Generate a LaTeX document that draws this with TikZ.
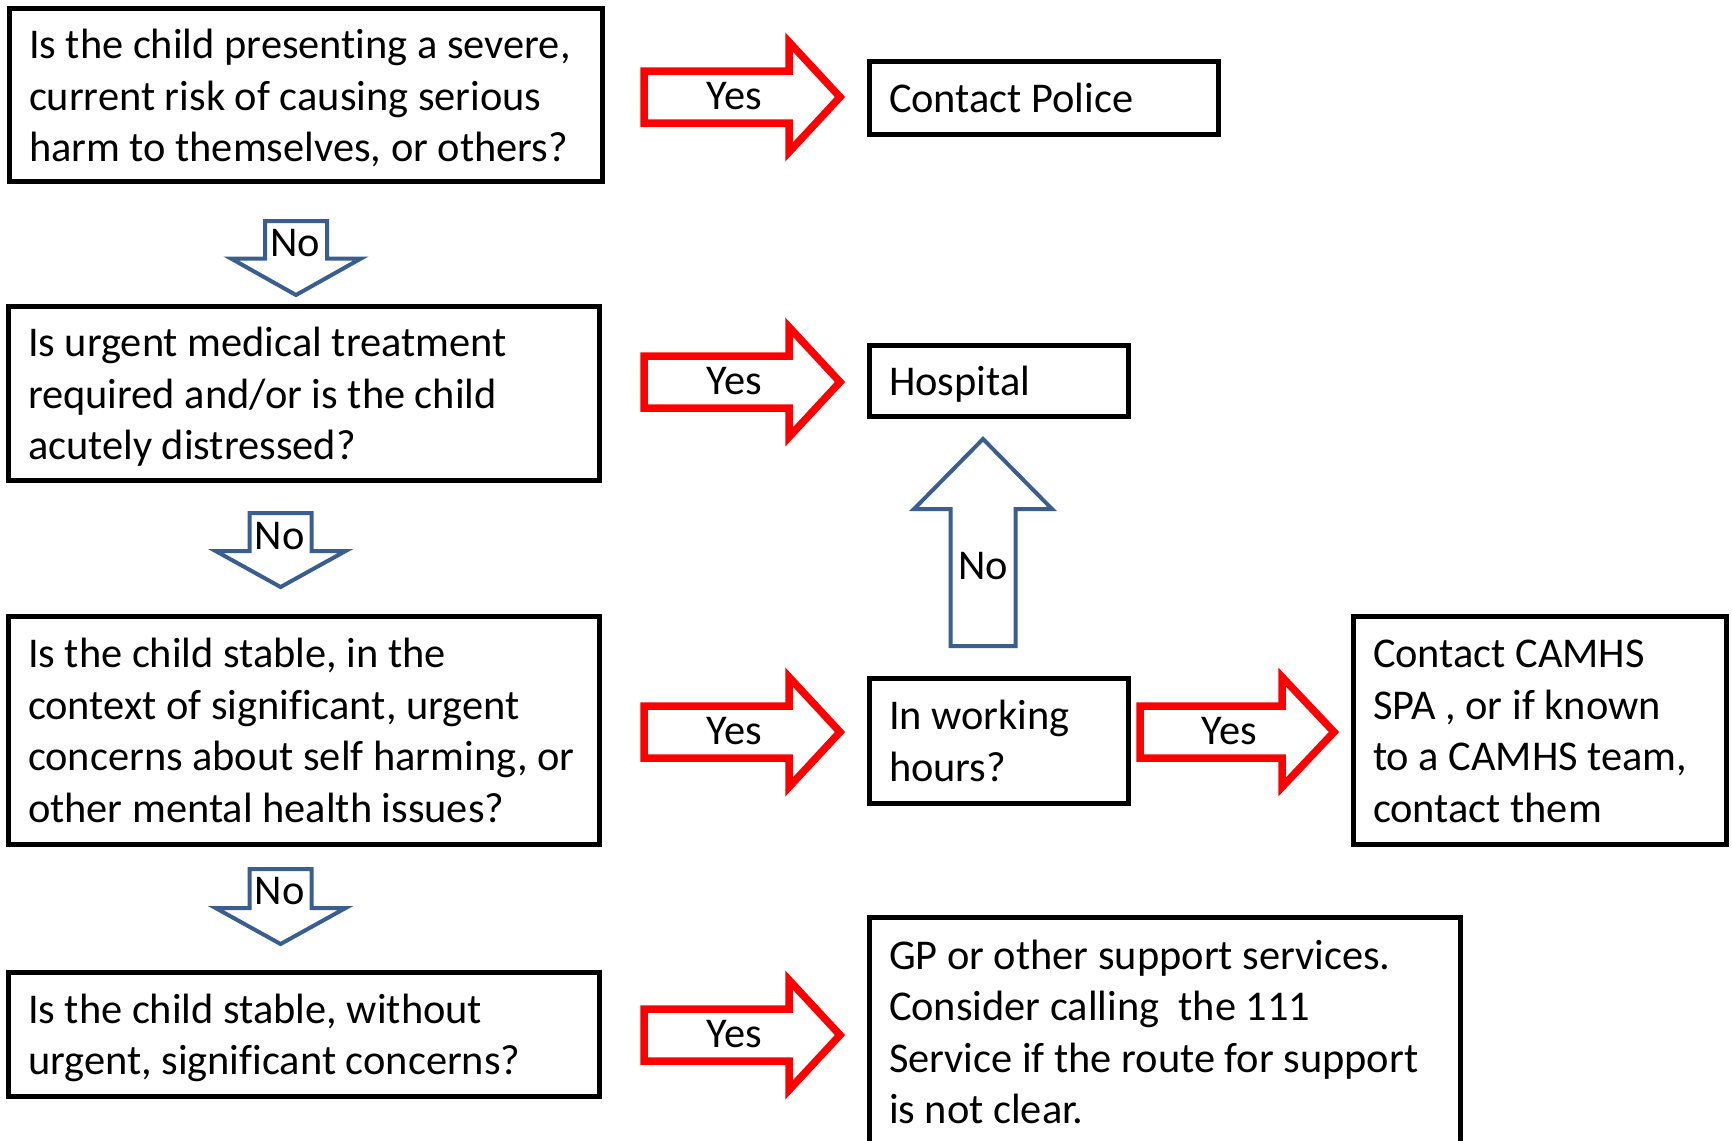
\documentclass[tikz,border=0pt]{standalone}
\usepackage{fontspec}
\setmainfont[Ligatures=NoCommon]{Carlito}
\definecolor{nblue}{HTML}{3A5E8E}
\newcommand\fs{\fontsize{21.2pt}{25.7pt}\selectfont\hyphenpenalty=10000\relax}
\newcommand\LN[1]{\mbox{\spaceskip=0pt\xspaceskip=0pt\frenchspacing #1}}
\newcommand\FL[1]{\rule{0pt}{15pt}\LN{#1}}
\newcommand\LL[1]{\smash{\LN{#1}}}
\newcommand\OL[1]{\rule{0pt}{15pt}\smash{\LN{#1}}}
\newcommand\YesArrow[4]{% x0, xb, xt, yc
  \draw[yesarrow] (#1,{#4-26}) -- (#2,{#4-26}) -- (#2,{#4-55}) -- (#3,#4) -- (#2,{#4+55}) -- (#2,{#4+26}) -- (#1,{#4+26}) -- cycle;}
\newcommand\DownArrow[6]{% cx, top, hb, tip, shaft half, head half
  \draw[noarrow] ({#1-#5},#2) -- ({#1+#5},#2) -- ({#1+#5},#3) -- ({#1+#6},#3) -- (#1,#4) -- ({#1-#6},#3) -- ({#1-#5},#3) -- cycle;}
\tikzset{
  box/.style={draw=black, line width=2.5pt, rectangle, inner xsep=10pt, inner ysep=0pt, align=left, font=\fs},
  yesarrow/.style={draw=red, line width=3.75pt, line join=miter, miter limit=10, fill=white},
  noarrow/.style={draw=nblue, line width=2pt, line join=miter, miter limit=10, fill=white},
  lbl/.style={inner sep=0pt, font=\fs}
}
\begin{document}
\begin{tikzpicture}[x=0.5pt,y=-0.5pt]
\useasboundingbox[fill=white] (0,0) rectangle (1732,1140);
% question boxes
\node[box, minimum width=296.5pt, minimum height=86.5pt, text width=276.5pt] (q1) at (305.5,95)
  {\FL{Is the child presenting a severe,}\\ \LN{current risk of causing serious}\\ \LL{harm to themselves, or others?}};
\node[box, minimum width=295.5pt, minimum height=87pt, text width=275.5pt] (q2) at (303.5,393)
  {\FL{Is urgent medical treatment}\\ \LN{required and/or is the child}\\ \LL{acutely distressed?}};
\node[box, minimum width=295.5pt, minimum height=114pt, text width=275.5pt] (q3) at (303.5,730)
  {\FL{Is the child stable, in the}\\ \LN{context of significant, urgent}\\ \LN{concerns about self harming, or}\\ \LL{other mental health issues?}};
\node[box, minimum width=295.5pt, minimum height=62pt, text width=275.5pt] (q4) at (303.5,1034)
  {\FL{Is the child stable, without}\\ \LL{urgent, significant concerns?}};
% outcome boxes
\node[box, minimum width=174.5pt, minimum height=36.5pt, text width=154.5pt] (police) at (1043.5,97.5)
  {\OL{Contact Police}};
\node[box, minimum width=129.5pt, minimum height=35.5pt, text width=109.5pt] (hospital) at (998.5,380.5)
  {\OL{Hospital}};
\node[box, minimum width=129.5pt, minimum height=62.5pt, text width=109.5pt] (hours) at (998.5,740.5)
  {\FL{In working}\\ \LL{hours?}};
\node[box, minimum width=186.5pt, minimum height=114pt, text width=166.5pt] (camhs) at (1539.5,730)
  {\FL{Contact CAMHS}\\ \LN{SPA , or if known}\\ \LN{to a CAMHS team,}\\ \LL{contact them}};
\node[box, minimum width=295.5pt, minimum height=114.5pt, text width=275.5pt] (gp) at (1164.5,1031.5)
  {\FL{GP or other support services.}\\ \LN{Consider calling\ \ the 111}\\ \LN{Service if the route for support}\\ \LL{is not clear.}};
% Yes arrows
\YesArrow{644}{789}{840}{97}
\node[lbl] (yes1) at (734.5,96) {Yes};
\YesArrow{644}{789}{840}{382}
\node[lbl] (yes2) at (734.5,381) {Yes};
\YesArrow{644}{789}{840}{732}
\node[lbl] (yes3) at (734.5,731) {Yes};
\YesArrow{644}{789}{840}{1035}
\node[lbl] (yes5) at (734.5,1034) {Yes};
\YesArrow{1140}{1282}{1334}{732}
\node[lbl] (yes4) at (1229.5,731) {Yes};
% No arrows
\DownArrow{296}{221}{258.5}{295}{31}{65}
\node[lbl] (no1) at (295,243) {No};
\DownArrow{280.6}{513}{551}{587}{31}{65}
\node[lbl] (no2) at (279.5,536) {No};
\DownArrow{280.6}{869}{908}{944}{31}{65}
\node[lbl] (no3) at (279.5,891) {No};
\DownArrow{983}{646}{509}{439}{32.5}{69}
\node[lbl] (no4) at (983,566) {No};
\end{tikzpicture}
\end{document}
